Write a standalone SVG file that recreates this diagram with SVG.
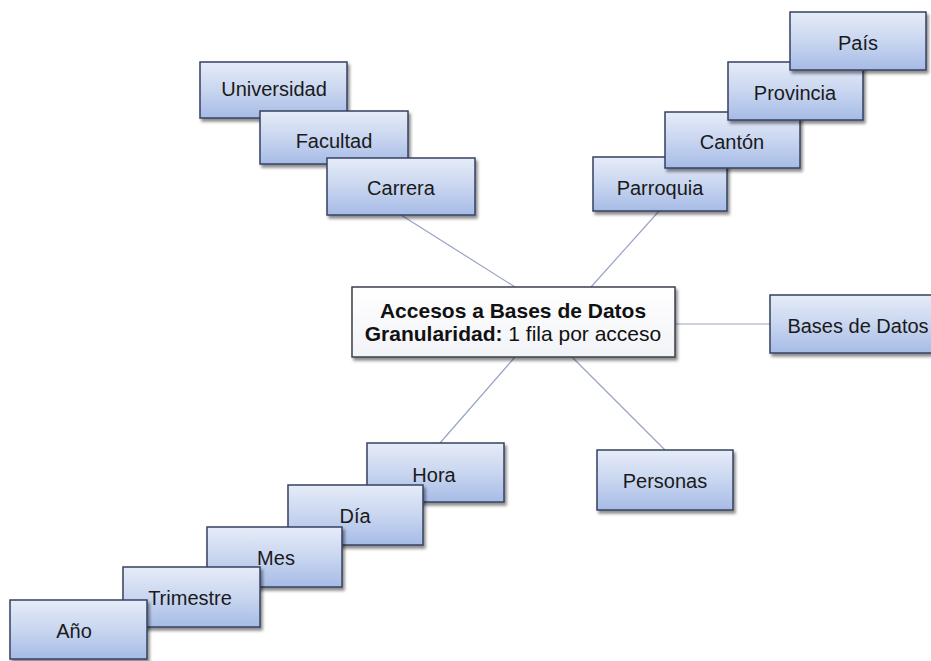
<svg xmlns="http://www.w3.org/2000/svg" width="931" height="661" viewBox="0 0 931 661">
<defs>
<linearGradient id="blue" x1="0" y1="0" x2="0" y2="1">
<stop offset="0" stop-color="#e6ecf8"/>
<stop offset="0.5" stop-color="#c9d6f0"/>
<stop offset="1" stop-color="#a6bbe6"/>
</linearGradient>
<linearGradient id="white" x1="0" y1="0" x2="0" y2="1">
<stop offset="0" stop-color="#ffffff"/>
<stop offset="1" stop-color="#f2f3f7"/>
</linearGradient>
<filter id="sh" x="-10%" y="-20%" width="130%" height="150%">
<feDropShadow dx="2" dy="3" stdDeviation="1.8" flood-color="#000" flood-opacity="0.45"/>
</filter>
</defs>
<style>
.b{fill:url(#blue);stroke:#34415f;stroke-width:1.5;filter:url(#sh)}
.c{fill:url(#white);stroke:#3a3f4a;stroke-width:1.5;filter:url(#sh)}
.t{font-family:"Liberation Sans",Arial,sans-serif;font-size:20px;fill:#1a1a1a;text-anchor:middle}
.tc{font-family:"Liberation Sans",Arial,sans-serif;font-size:21px;fill:#111;text-anchor:middle}
.l{stroke:#98a4c4;stroke-width:1.2;fill:none}
</style>
<rect width="931" height="661" fill="#fff"/>
<g id="connectors">
<line class="l" x1="401" y1="215" x2="515" y2="287"/>
<line class="l" x1="660" y1="210" x2="591" y2="287"/>
<line class="l" x1="675" y1="324" x2="770" y2="324"/>
<line class="l" x1="515" y1="357" x2="440" y2="443"/>
<line class="l" x1="572" y1="357" x2="665" y2="450"/>
</g>
<g id="universidad"><rect class="b" x="200" y="62" width="147" height="56"/><text class="t" x="274" y="96">Universidad</text></g>
<g id="facultad"><rect class="b" x="260" y="111" width="148" height="53"/><text class="t" x="334" y="148">Facultad</text></g>
<g id="carrera"><rect class="b" x="327" y="158" width="148" height="57"/><text class="t" x="401" y="195">Carrera</text></g>
<g id="parroquia"><rect class="b" x="593" y="157" width="134" height="54"/><text class="t" x="660" y="195">Parroquia</text></g>
<g id="canton"><rect class="b" x="665" y="112" width="135" height="56"/><text class="t" x="732" y="149">Cantón</text></g>
<g id="provincia"><rect class="b" x="728" y="62" width="135" height="58"/><text class="t" x="795" y="100">Provincia</text></g>
<g id="pais"><rect class="b" x="790" y="12" width="136" height="58"/><text class="t" x="858" y="50">País</text></g>
<g id="center"><rect class="c" x="352" y="287" width="323" height="70"/>
<text class="tc" x="513" y="318" font-weight="bold">Accesos a Bases de Datos</text>
<text class="tc" x="513" y="341"><tspan font-weight="bold">Granularidad:</tspan> 1 fila por acceso</text></g>
<g id="basesdedatos"><rect class="b" x="770" y="295" width="175" height="58"/><text class="t" x="858" y="333">Bases de Datos</text></g>
<g id="personas"><rect class="b" x="597" y="450" width="136" height="60"/><text class="t" x="665" y="488">Personas</text></g>
<g id="hora"><rect class="b" x="367" y="443" width="137" height="59"/><text class="t" x="434" y="482">Hora</text></g>
<g id="dia"><rect class="b" x="288" y="485" width="135" height="60"/><text class="t" x="355" y="523">Día</text></g>
<g id="mes"><rect class="b" x="207" y="527" width="135" height="60"/><text class="t" x="276" y="565">Mes</text></g>
<g id="trimestre"><rect class="b" x="123" y="567" width="137" height="60"/><text class="t" x="190" y="605">Trimestre</text></g>
<g id="anio"><rect class="b" x="10" y="600" width="137" height="59"/><text class="t" x="74" y="638">Año</text></g>
</svg>
